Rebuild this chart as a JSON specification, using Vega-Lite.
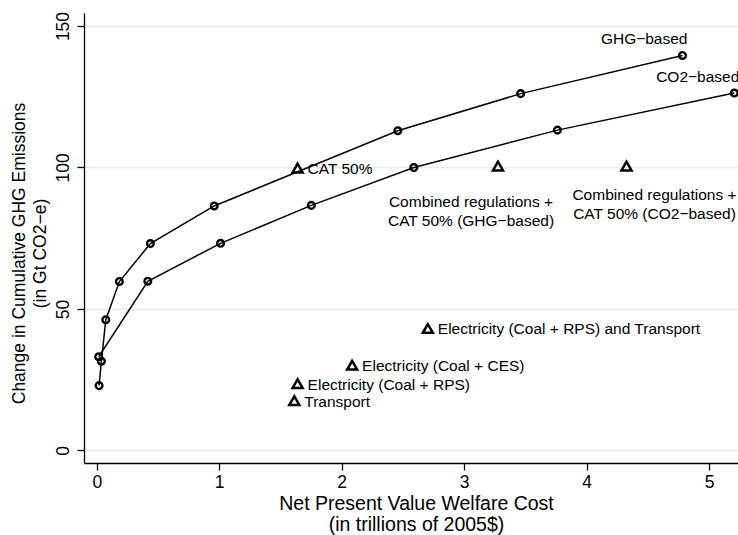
{
  "$schema": "https://vega.github.io/schema/vega-lite/v6.json",
  "autosize": {"type": "none"},
  "padding": {"left": 84, "top": 13, "right": 0, "bottom": 72},
  "width": 664,
  "height": 450,
  "background": "white",
  "config": {
    "view": {"stroke": null},
    "font": "Liberation Sans",
    "axis": {
      "domainColor": "black",
      "domainWidth": 1.3,
      "tickColor": "black",
      "tickWidth": 1.3,
      "tickSize": 7,
      "labelColor": "black",
      "titleColor": "black",
      "labelFont": "Liberation Sans",
      "titleFont": "Liberation Sans",
      "labelFontSize": 17.5,
      "titleFontWeight": "normal",
      "titleLineHeight": 21
    },
    "text": {"font": "Liberation Sans", "fontSize": 15.5, "color": "black"}
  },
  "datasets": {
    "curves": [
      {"series": "GHG-based", "cost": 0.019, "emissions": 22.9},
      {"series": "GHG-based", "cost": 0.038, "emissions": 31.5},
      {"series": "GHG-based", "cost": 0.074, "emissions": 46.2},
      {"series": "GHG-based", "cost": 0.185, "emissions": 59.7},
      {"series": "GHG-based", "cost": 0.438, "emissions": 73.1},
      {"series": "GHG-based", "cost": 0.959, "emissions": 86.4},
      {"series": "GHG-based", "cost": 2.458, "emissions": 113.0},
      {"series": "GHG-based", "cost": 3.461, "emissions": 126.1},
      {"series": "GHG-based", "cost": 4.782, "emissions": 139.6},
      {"series": "CO2-based", "cost": 0.016, "emissions": 33.1},
      {"series": "CO2-based", "cost": 0.417, "emissions": 59.8},
      {"series": "CO2-based", "cost": 1.011, "emissions": 73.2},
      {"series": "CO2-based", "cost": 1.752, "emissions": 86.6},
      {"series": "CO2-based", "cost": 2.589, "emissions": 100.0},
      {"series": "CO2-based", "cost": 3.761, "emissions": 113.2},
      {"series": "CO2-based", "cost": 5.205, "emissions": 126.3}
    ],
    "curveLabels": [
      {"label": "GHG−based", "cost": 4.782, "emissions": 139.6},
      {"label": "CO2−based", "cost": 5.205, "emissions": 126.3}
    ],
    "policies": [
      {"name": "CAT 50%", "cost": 1.640, "emissions": 99.8},
      {"name": "Combined regulations +\nCAT 50% (GHG−based)", "cost": 3.276, "emissions": 100.5},
      {"name": "Combined regulations +\nCAT 50% (CO2−based)", "cost": 4.325, "emissions": 100.5},
      {"name": "Electricity (Coal + RPS) and Transport", "cost": 2.703, "emissions": 43.1},
      {"name": "Electricity (Coal + CES)", "cost": 2.085, "emissions": 30.1},
      {"name": "Electricity (Coal + RPS)", "cost": 1.640, "emissions": 23.6},
      {"name": "Transport", "cost": 1.613, "emissions": 17.6}
    ]
  },
  "encoding": {
    "x": {
      "field": "cost",
      "type": "quantitative",
      "scale": {"domain": [-0.104, 5.317], "nice": false, "zero": false},
      "axis": {
        "values": [0, 1, 2, 3, 4, 5],
        "grid": false,
        "labelPadding": 3,
        "title": ["Net Present Value Welfare Cost", "(in trillions of 2005$)"],
        "titleFontSize": 19.5,
        "titleBaseline": "middle",
        "titleY": 40
      }
    },
    "y": {
      "field": "emissions",
      "type": "quantitative",
      "scale": {"domain": [-4.45, 154.6], "nice": false, "zero": false},
      "axis": {
        "values": [0, 50, 100, 150],
        "grid": true,
        "gridColor": "#e3eded",
        "gridWidth": 1.5,
        "labelAngle": -90,
        "labelAlign": "center",
        "labelBaseline": "bottom",
        "labelPadding": 5,
        "title": ["Change in Cumulative GHG Emissions", "(in Gt CO2−e)"],
        "titleFontSize": 17.5,
        "titleAngle": -90,
        "titleBaseline": "middle",
        "titleX": -65,
        "titleY": 240
      }
    }
  },
  "layer": [
    {
      "data": {"name": "curves"},
      "mark": {"type": "line", "color": "black", "strokeWidth": 1.5},
      "encoding": {"detail": {"field": "series"}}
    },
    {
      "data": {"name": "curves"},
      "mark": {"type": "point", "shape": "circle", "filled": false, "color": "black", "strokeWidth": 2.4, "size": 45, "opacity": 1}
    },
    {
      "data": {"name": "curveLabels"},
      "mark": {"type": "text", "align": "right", "baseline": "middle", "dx": 5, "dy": -16},
      "encoding": {"text": {"field": "label"}}
    },
    {
      "data": {"name": "policies"},
      "mark": {"type": "point", "shape": "triangle-up", "filled": false, "color": "black", "strokeWidth": 2.5, "size": 100, "opacity": 1}
    },
    {
      "data": {"name": "policies"},
      "transform": [{"filter": {"field": "name", "oneOf": ["CAT 50%", "Electricity (Coal + RPS) and Transport", "Electricity (Coal + CES)", "Electricity (Coal + RPS)", "Transport"]}}],
      "mark": {"type": "text", "align": "left", "baseline": "middle", "dx": 10, "dy": 1},
      "encoding": {"text": {"field": "name"}}
    },
    {
      "data": {"name": "policies"},
      "transform": [{"filter": {"field": "name", "equal": "Combined regulations +\nCAT 50% (GHG−based)"}}],
      "mark": {"type": "text", "align": "center", "baseline": "middle", "dx": -27, "dy": 36, "lineBreak": "\n", "lineHeight": 19},
      "encoding": {"text": {"field": "name"}}
    },
    {
      "data": {"name": "policies"},
      "transform": [{"filter": {"field": "name", "equal": "Combined regulations +\nCAT 50% (CO2−based)"}}],
      "mark": {"type": "text", "align": "center", "baseline": "middle", "dx": 28, "dy": 29, "lineBreak": "\n", "lineHeight": 19},
      "encoding": {"text": {"field": "name"}}
    }
  ]
}
